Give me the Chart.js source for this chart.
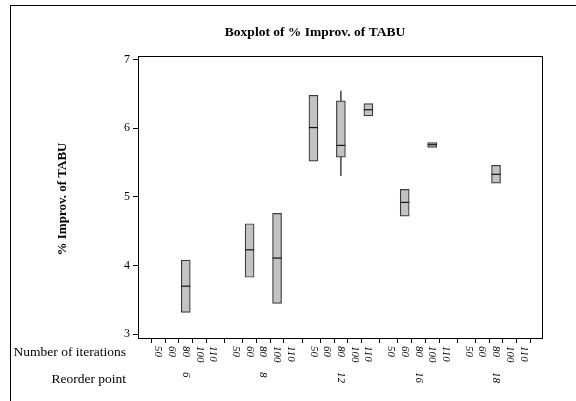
<!DOCTYPE html>
<html>
<head>
<meta charset="utf-8">
<script src="https://cdn.jsdelivr.net/npm/chart.js"></script>
<style>
  html, body { margin: 0; padding: 0; background: #fff; }
  #wrap { width: 576px; height: 401px; }
</style>
</head>
<body>
<div id="wrap"><canvas id="chart" width="576" height="401"></canvas></div>
<script>
// categories
const reorderPoints = [6, 8, 12, 16, 18];
const iterations = [50, 60, 80, 100, 110];

// one entry per box that has data
const boxReorder = [6, 8, 8, 12, 12, 12, 16, 16, 18];
const boxIter    = [80, 60, 100, 50, 80, 110, 60, 100, 80];
const boxQ1      = [3.32, 3.83, 3.45, 5.52, 5.58, 6.18, 4.72, 5.72, 5.20];
const boxQ3      = [4.08, 4.61, 4.76, 6.48, 6.40, 6.36, 5.11, 5.79, 5.46];
const boxMedian  = [3.70, 4.23, 4.11, 6.01, 5.75, 6.27, 4.92, 5.76, 5.33];
const whiskerLow  = [null, null, null, null, 5.31, null, null, null, null];
const whiskerHigh = [null, null, null, null, 6.54, null, null, null, null];

const yTicks = [3, 4, 5, 6, 7];

// x position of a (reorder, iterations) cell; groups have a small gap between them
const GROUP_STEP = 5.65;
function xPos(r, it) {
  return reorderPoints.indexOf(r) * GROUP_STEP + iterations.indexOf(it);
}
const xTickValues = [];
const xTickLabels = [];
reorderPoints.forEach(r => iterations.forEach(it => {
  xTickValues.push(xPos(r, it));
  xTickLabels.push(String(it));
}));

const boxData = boxIter.map((it, i) => ({ x: xPos(boxReorder[i], it), y: [boxQ1[i], boxQ3[i]] }));
const medianData = boxIter.map((it, i) => ({ x: xPos(boxReorder[i], it), y: boxMedian[i] }));
const whiskerData = [];
boxIter.forEach((it, i) => {
  if (whiskerLow[i] !== null) {
    whiskerData.push({ x: xPos(boxReorder[i], it), y: [whiskerLow[i], whiskerHigh[i]] });
  }
});

const SERIF = '"Liberation Serif", "Times New Roman", serif';

// frame, plot box, titles and rotated category labels
const decor = {
  id: 'decor',
  beforeDraw(chart) {
    const ctx = chart.ctx;
    ctx.save();
    ctx.fillStyle = '#fff';
    ctx.fillRect(0, 0, chart.width, chart.height);
    ctx.restore();
  },
  afterDraw(chart) {
    const ctx = chart.ctx;
    const a = chart.chartArea;
    const xs = chart.scales.x;
    ctx.save();
    // outer frame (cut at right and bottom)
    ctx.strokeStyle = '#000';
    ctx.lineWidth = 1;
    ctx.strokeRect(10.5, 5.5, 700, 500);
    // plot box
    ctx.strokeRect(a.left + 0.5, a.top + 0.5, a.right - a.left, a.bottom - a.top);

    ctx.fillStyle = '#000';
    // title
    ctx.font = 'bold 13.5px ' + SERIF;
    ctx.textAlign = 'center';
    ctx.textBaseline = 'alphabetic';
    ctx.fillText('Boxplot of % Improv. of TABU', 315, 36);

    // y title
    ctx.save();
    ctx.translate(63, (a.top + a.bottom) / 2 + 2);
    ctx.rotate(-Math.PI / 2);
    ctx.font = 'bold 13px ' + SERIF;
    ctx.textBaseline = 'middle';
    ctx.fillText('% Improv. of TABU', 0, 0);
    ctx.restore();

    // row labels
    ctx.font = '13.5px ' + SERIF;
    ctx.textAlign = 'right';
    ctx.textBaseline = 'middle';
    ctx.fillText('Number of iterations', 126, 352);
    ctx.fillText('Reorder point', 126, 379);

    // iteration labels, rotated clockwise
    ctx.font = 'italic 11px ' + SERIF;
    xTickValues.forEach((v, i) => {
      const px = xs.getPixelForValue(v);
      ctx.save();
      ctx.translate(px, a.bottom + 8);
      ctx.rotate(Math.PI / 2);
      ctx.textAlign = 'left';
      ctx.textBaseline = 'middle';
      ctx.fillText(xTickLabels[i], 0, 0);
      ctx.restore();
    });
    // reorder labels under the middle cell of each group
    reorderPoints.forEach(r => {
      const px = xs.getPixelForValue(xPos(r, iterations[2]));
      ctx.save();
      ctx.translate(px, 372);
      ctx.rotate(Math.PI / 2);
      ctx.textAlign = 'left';
      ctx.textBaseline = 'middle';
      ctx.fillText(String(r), 0, 0);
      ctx.restore();
    });
    ctx.restore();
  }
};

new Chart(document.getElementById('chart'), {
  type: 'bar',
  data: {
    datasets: [
      {
        label: 'whiskers',
        data: whiskerData,
        backgroundColor: '#555',
        barThickness: 1,
        grouped: false,
        order: 3
      },
      {
        label: 'boxes',
        data: boxData,
        backgroundColor: '#c3c3c3',
        borderColor: '#3a3a3a',
        borderWidth: 1.2,
        borderSkipped: false,
        barThickness: 9,
        grouped: false,
        order: 2
      },
      {
        type: 'scatter',
        label: 'median',
        data: medianData,
        pointStyle: 'line',
        radius: 4.5,
        borderColor: '#111',
        borderWidth: 1.2,
        order: 1
      }
    ]
  },
  options: {
    responsive: false,
    animation: false,
    events: [],
    layout: { padding: { left: 0, right: 34, top: 56, bottom: 0 } },
    plugins: { legend: { display: false }, tooltip: { enabled: false }, title: { display: false } },
    scales: {
      x: {
        type: 'linear',
        min: -0.89,
        max: 27.36,
        afterBuildTicks(scale) { scale.ticks = xTickValues.map(v => ({ value: v })); },
        afterFit(scale) { scale.height = 63; },
        ticks: { display: false },
        grid: { drawOnChartArea: false, tickLength: 5, tickColor: '#000', tickWidth: 1 },
        border: { color: '#000' }
      },
      y: {
        min: 2.946,
        max: 7.052,
        afterBuildTicks(scale) { scale.ticks = yTicks.map(v => ({ value: v })); },
        afterFit(scale) { scale.width = 138; },
        ticks: { color: '#000', font: { family: SERIF, size: 12 }, padding: 3 },
        grid: { drawOnChartArea: false, tickLength: 5, tickColor: '#000', tickWidth: 1 },
        border: { color: '#000' }
      }
    }
  },
  plugins: [decor]
});
</script>
</body>
</html>
